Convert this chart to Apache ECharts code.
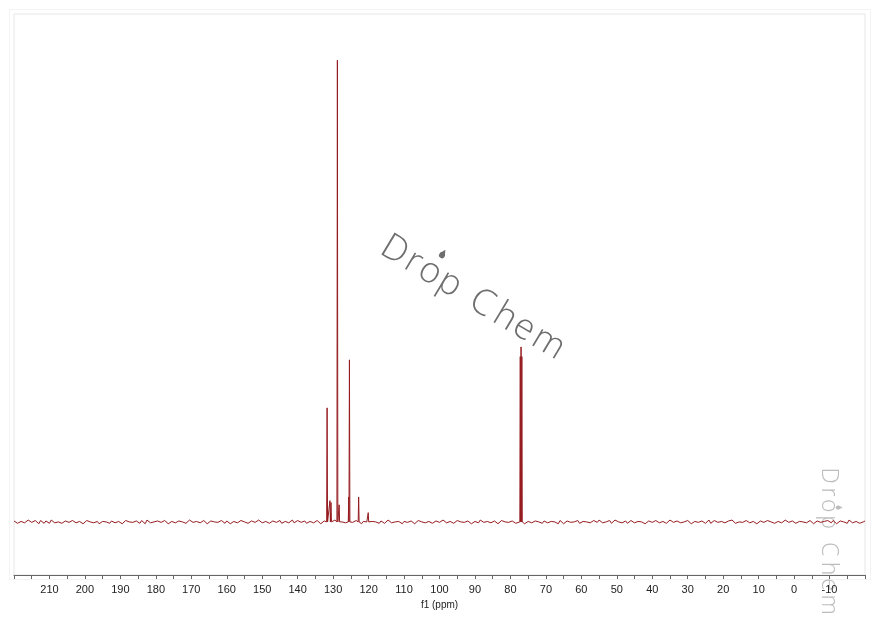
<!DOCTYPE html>
<html><head><meta charset="utf-8">
<script src="https://cdn.jsdelivr.net/npm/echarts@6.0.0/dist/echarts.min.js"></script>
<style>html,body{margin:0;padding:0;background:#fff}#c{width:880px;height:621px}</style>
</head><body><div id="c"></div>
<script>
// axis range (ppm), axis drawn reversed like NMR
const xMin = -20, xMax = 220, tickInterval = 10;
const axisName = 'f1 (ppm)';
// baseline noise at whole ppm, from 220 down to -20 (relative intensity)
const baselineNoise = [
 0.2,-0.3,0.1,-0.2,0.4,-0.1,0.3,-0.4,0.0,0.2,-0.3,0.3,-0.1,0.1,-0.4,0.2,-0.2,0.4,-0.3,0.1,
 -0.1,0.3,-0.2,0.2,-0.4,0.1,0.0,-0.3,0.3,-0.1,0.2,-0.2,0.4,-0.3,0.1,-0.1,0.3,-0.4,0.2,0.0,
 -0.2,0.1,-0.3,0.4,-0.1,0.2,-0.4,0.3,-0.2,0.1,0.0,-0.3,0.2,-0.1,0.4,-0.2,0.1,-0.3,0.3,-0.1,
 0.2,-0.4,0.1,-0.2,0.3,0.0,-0.3,0.2,-0.1,0.4,-0.2,0.1,-0.3,0.2,-0.1,0.3,-0.4,0.1,0.0,-0.2,
 0.3,-0.1,0.2,-0.3,0.1,-0.4,0.4,-0.2,0.0,0.2,-0.1,0.3,-0.3,0.1,-0.2,0.4,-0.1,0.2,-0.4,0.3,
 -0.2,0.1,0.0,-0.3,0.2,-0.1,0.3,-0.2,0.4,-0.3,0.1,-0.1,0.2,-0.4,0.3,0.0,-0.2,0.1,-0.3,0.2,
 -0.1,0.4,-0.2,0.1,-0.3,0.3,0.0,-0.1,0.2,-0.4,0.1,-0.2,0.3,-0.1,0.2,-0.3,0.4,-0.2,0.0,0.1,
 -0.3,0.2,-0.1,0.3,-0.4,0.1,-0.2,0.2,0.0,-0.3,0.4,-0.1,0.1,-0.2,0.3,-0.4,0.2,-0.1,0.0,0.3,
 -0.2,0.1,-0.3,0.2,-0.1,0.4,-0.2,0.0,0.3,-0.4,0.1,-0.1,0.2,-0.3,0.3,-0.2,0.1,0.0,-0.4,0.2,
 -0.1,0.3,-0.2,0.1,-0.3,0.4,-0.1,0.2,-0.2,0.0,0.3,-0.4,0.1,-0.1,0.2,-0.3,0.4,-0.2,0.1,-0.1,
 0.2,-0.3,0.0,0.3,-0.2,0.1,-0.4,0.2,-0.1,0.3,-0.2,0.4,-0.3,0.1,0.0,-0.2,0.2,-0.1,0.3,-0.4,
 0.1,-0.2,0.3,-0.1,0.0,0.2,-0.3,0.4,-0.2,0.1,-0.1,0.3,-0.4,0.2,0.0,-0.3,0.1,-0.2,0.4,-0.1,
 0.2
];
// baseline noise at half ppm, from 219.5 down to -19.5
const baselineNoiseHalf = [
 0.1,-0.2,0.3,-0.4,0.2,0.0,-0.1,0.3,-0.3,0.1,0.4,-0.2,0.0,-0.3,0.2,-0.1,0.3,-0.2,0.1,-0.4,
 0.3,0.0,-0.2,0.1,-0.1,0.4,-0.3,0.2,-0.2,0.1,-0.4,0.3,0.0,-0.1,0.2,-0.3,0.1,0.4,-0.2,0.0,
 0.2,-0.1,0.3,-0.4,0.1,-0.2,0.2,0.0,-0.3,0.4,-0.1,0.1,-0.2,0.3,-0.4,0.2,0.0,-0.1,0.3,-0.3,
 0.1,-0.2,0.4,-0.1,0.0,0.2,-0.3,0.1,-0.4,0.3,-0.2,0.2,0.0,-0.1,0.3,-0.3,0.1,-0.2,0.4,-0.1,
 0.0,0.2,-0.3,0.1,-0.2,0.3,-0.4,0.2,-0.1,0.1,0.4,-0.3,0.0,-0.2,0.2,-0.1,0.3,-0.4,0.1,0.0,
 -0.2,0.3,-0.1,0.2,-0.3,0.4,-0.2,0.0,0.1,-0.4,0.3,-0.1,0.2,-0.2,0.0,0.3,-0.3,0.1,-0.1,0.4,
 -0.3,0.2,0.0,-0.2,0.1,-0.1,0.3,-0.4,0.2,0.0,-0.3,0.4,-0.1,0.1,-0.2,0.2,-0.4,0.3,0.0,-0.1,
 0.2,-0.3,0.1,0.4,-0.2,0.0,-0.1,0.3,-0.3,0.2,-0.2,0.1,0.0,-0.4,0.3,-0.1,0.2,-0.2,0.4,-0.3,
 0.1,0.0,-0.2,0.3,-0.1,0.2,-0.4,0.1,-0.3,0.4,0.0,-0.2,0.2,-0.1,0.3,-0.3,0.1,-0.2,0.0,0.2,
 -0.4,0.3,-0.1,0.1,-0.2,0.4,-0.3,0.0,0.2,-0.1,0.3,-0.2,0.1,-0.4,0.2,0.0,-0.3,0.3,-0.1,0.1,
 -0.2,0.2,0.4,-0.3,0.0,-0.1,0.3,-0.2,0.1,-0.4,0.2,-0.1,0.3,0.0,-0.3,0.1,-0.2,0.4,-0.1,0.2,
 -0.3,0.1,0.0,-0.2,0.3,-0.4,0.2,-0.1,0.1,0.3,-0.2,0.0,-0.3,0.2,-0.1,0.4,-0.2,0.1,-0.3,0.0
];
// peaks (ppm) and heights (tallest = 100)
const peakPpm    = [131.7, 130.9, 130.6, 128.8, 128.3, 125.6, 125.4, 122.8, 120.1, 77.22, 77.0, 76.78];
const peakHeight = [24.7,  4.6,   4.2,   100,   3.7,   5.4,   35.1,  5.4,   2.0,   35.8,  37.9, 35.8];

const HW = 0.13;
const pts = [];
const nearPeak = x => peakPpm.some(p => Math.abs(p - x) < 0.4);
baselineNoise.forEach((v, i) => { const x = xMax - i; if (!nearPeak(x)) pts.push([x, v]); });
baselineNoiseHalf.forEach((v, i) => { const x = xMax - 0.5 - i; if (!nearPeak(x)) pts.push([x, v]); });
peakPpm.forEach((p, i) => { pts.push([p + HW, 0], [p, peakHeight[i]], [p - HW, 0]); });
pts.sort((a, b) => b[0] - a[0]);

const letters = ['D','r','o','p','C','h','e','m'];
const letterOffs = [-100.8,-73,-57,-34.3,2.7,30.3,53,75.7];
function mark(x, y, rot, scale, fontSize, color, drop) {
  const children = letters.map((ch, i) => ({
    type: 'text', x: letterOffs[i], y: 0,
    style: { text: ch, fontSize, fontFamily: 'Open Sans', fontWeight: 300, fill: color,
             textAlign: 'left', textVerticalAlign: 'middle' }
  }));
  children.push({ type: 'circle', shape: { cx: drop[0], cy: drop[1] + 1.5, r: 3 }, style: { fill: color } });
  children.push({ type: 'polygon', shape: { points: [[drop[0], drop[1] - 5], [drop[0] + 2.8, drop[1] + 0.6], [drop[0] - 2.8, drop[1] + 0.6]] }, style: { fill: color } });
  return { type: 'group', x, y, rotation: rot, scaleX: scale, scaleY: scale, z: 100, children };
}

const chart = echarts.init(document.getElementById('c'), null, { renderer: 'canvas' });
chart.setOption({
  animation: false,
  backgroundColor: '#fff',
  grid: { left: 14, right: 15, top: 14, bottom: 46, show: true, borderColor: '#e6e6e6', borderWidth: 1 },
  xAxis: {
    type: 'value', min: xMin, max: xMax, interval: tickInterval, inverse: true,
    name: axisName, nameLocation: 'middle', nameGap: 21,
    nameTextStyle: { fontSize: 10, color: '#222', fontFamily: 'Liberation Sans' },
    axisLine: { onZero: false, lineStyle: { color: '#666', width: 1 } },
    axisTick: { inside: false, length: 4, lineStyle: { color: '#666' } },
    minorTick: { show: true, splitNumber: 2, length: 4, lineStyle: { color: '#666' } },
    axisLabel: { showMinLabel: false, showMaxLabel: false, fontSize: 11, color: '#222', margin: 9, fontFamily: 'Liberation Sans' },
    splitLine: { show: false }
  },
  yAxis: { type: 'value', min: -11.5, max: 110, show: false, splitLine: { show: false } },
  series: [{
    type: 'line', data: pts, showSymbol: false, symbol: 'none', sampling: 'none',
    lineStyle: { color: '#951b1f', width: 1 }
  }],
  graphic: [
    { type: 'rect', shape: { x: 9.5, y: 9.5, width: 861, height: 570 }, style: { fill: 'none', stroke: '#f3f3f3', lineWidth: 1 }, z: -1 },
    mark(470, 296, -31 * Math.PI / 180, 1, 36, '#6e6e6e', [-45, -22]),
    mark(829, 540, -Math.PI / 2, 0.72, 32, '#bdbdbd', [-45, -14])
  ]
});
</script></body></html>
